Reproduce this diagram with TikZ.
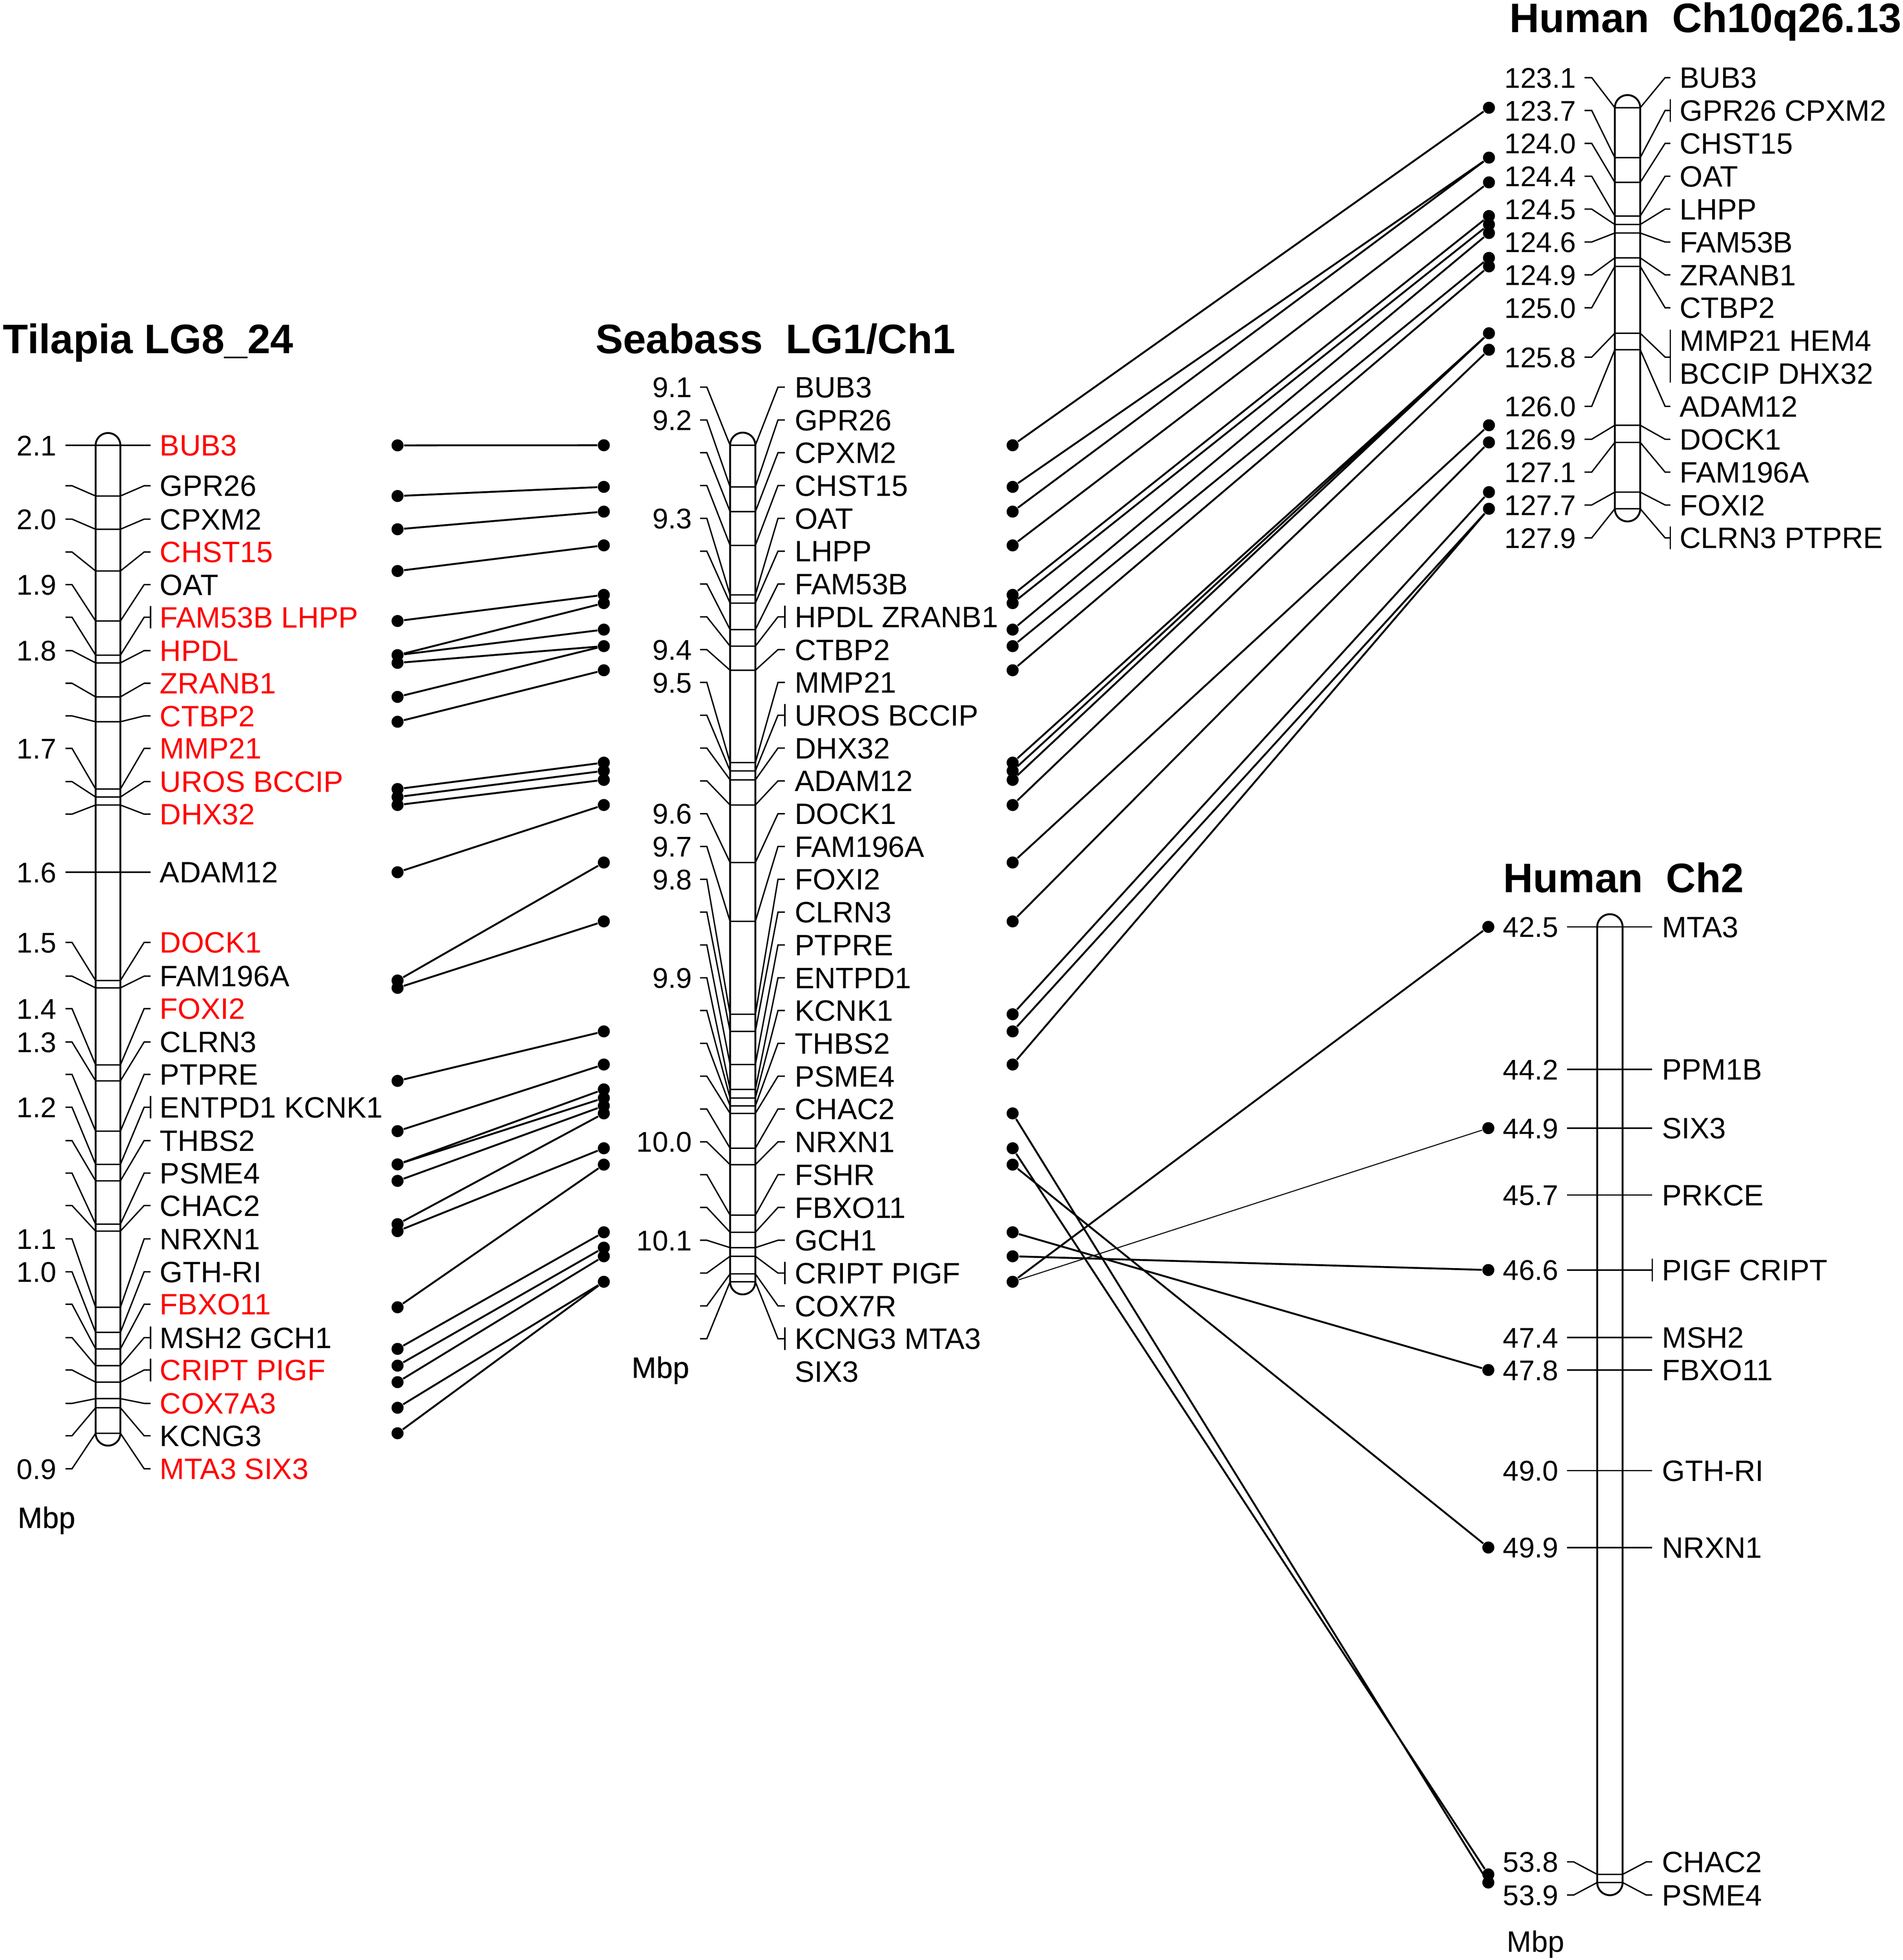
\documentclass[tikz,border=0pt]{standalone}
\usepackage{fontspec}
\setmainfont{Liberation Sans}
\newcommand{\genefont}{\fontsize{11.8}{14}\selectfont}
\newcommand{\numfont}{\fontsize{11.4}{14}\selectfont}
\newcommand{\titlefont}{\bfseries\fontsize{16.5}{20}\selectfont}
% chromosome outline: left, right, top, bottom
\newcommand{\chromosome}[4]{%
  \pgfmathsetmacro\rad{(#2-#1)/2}%
  \draw[chrom] (#1,#3) arc[start angle=180,end angle=360,radius=\rad]
    -- (#2,#4) arc[start angle=0,end angle=180,radius=\rad] -- cycle;}
% tick geometry of one chromosome
\newcommand{\setgeom}[6]{\def\lxa{#1}\def\lxb{#2}\def\xcl{#3}\def\xcr{#4}\def\rxa{#5}\def\rxb{#6}}
\newcommand{\marker}[2]{% row, band
  \draw[tick] (\lxa,#1) -- (\lxb,#1) -- (\xcl,#2) -- (\xcr,#2) -- (\rxa,#1) -- (\rxb,#1);}
\newcommand{\gbar}[2]{\draw[tick] (#1,{#2-9}) -- (#1,{#2+9});}

\begin{document}
\begin{tikzpicture}[x=0.5pt,y=-0.5pt,
    chrom/.style={line width=0.75pt},
    tick/.style={line width=0.55pt},
    link/.style={line width=0.75pt},
    thinlink/.style={line width=0.4pt},
    dot/.style={circle,fill=black,inner sep=0pt,minimum size=4.8pt},
    gene/.style={anchor=base west,inner sep=0pt,yshift=-4.2pt,font=\genefont},
    num/.style={anchor=base east,inner sep=0pt,yshift=-4.1pt,font=\numfont},
    title/.style={anchor=base west,inner sep=0pt,yshift=-5.9pt,font=\titlefont}]
  \useasboundingbox (0,0) rectangle (1522.2,1568);

  \node[title] (tilT) at (2,271) {Tilapia LG8\_24};
  \node[title] (seaT) at (476,271) {Seabass~~LG1/Ch1};
  \node[title] (hTen) at (1207,14) {Human~~Ch10q26.13};
  \node[title] (hTwo) at (1202,702) {Human~~Ch2};

  % Tilapia
  \setgeom{52.4}{57.6}{76.5}{96.3}{115.3}{120.4}
  \chromosome{76.5}{96.3}{356.3}{1146.6}
  \foreach \rw/\bd/\gn/\col [count=\idx] in {356.3/356.3/BUB3/red,
      388.6/396.8/GPR26/black, 415.3/423.4/CPXM2/black, 441.6/456.8/CHST15/red,
      467.7/496.8/OAT/black, 493.8/524.1/FAM53B LHPP/red, 520.5/530.3/HPDL/red,
      546.6/557.5/ZRANB1/red, 572.7/577.4/CTBP2/red, 598.7/631.2/MMP21/red,
      625.3/637.6/UROS BCCIP/red, 651.3/644.0/DHX32/red, 697.8/697.8/ADAM12/black,
      753.9/784.4/DOCK1/red, 780.9/790.3/FAM196A/black, 806.9/851.9/FOXI2/red,
      833.6/864.7/CLRN3/black, 859.5/904.9/PTPRE/black, 885.8/931.5/ENTPD1 KCNK1/black,
      912.5/944.7/THBS2/black, 938.5/979.3/PSME4/black, 964.4/984.9/CHAC2/black,
      991.1/1045.8/NRXN1/black, 1017.4/1065.9/GTH-RI/black, 1043.4/1079.1/FBXO11/red,
      1070.1/1092.5/MSH2 GCH1/black, 1096.0/1105.7/CRIPT PIGF/red,
      1122.7/1118.9/COX7A3/red, 1148.6/1126.2/KCNG3/black, 1175.0/1146.6/MTA3 SIX3/red}{
    \marker{\rw}{\bd}
    \node[gene,text=\col] (tg\idx) at (127.5,\rw) {\gn};}
  \foreach \rw/\n [count=\idx] in {356.3/2.1, 415.3/2.0, 467.7/1.9, 520.5/1.8, 598.7/1.7,
      697.8/1.6, 753.9/1.5, 806.9/1.4, 833.6/1.3, 885.8/1.2, 991.1/1.1, 1017.4/1.0, 1175.0/0.9}
    \node[num] (tn\idx) at (45.5,\rw) {\n};
  \foreach \rw in {493.8,885.8,1070.1,1096.0} \gbar{120.4}{\rw}
  \node[gene] (tMbp) at (14,1214) {Mbp};

  % Seabass
  \setgeom{560.0}{565.4}{584.0}{604.2}{622.3}{627.8}
  \chromosome{584.0}{604.2}{356.2}{1025.4}
  \foreach \bd/\gn [count=\idx from 0] in {356.2/BUB3, 389.5/GPR26, 409.3/CPXM2,
      436.3/CHST15, 475.9/OAT, 482.5/LHPP, 503.7/FAM53B, 516.9/HPDL ZRANB1, 536.2/CTBP2,
      610.1/MMP21, 616.7/UROS BCCIP, 623.9/DHX32, 644.0/ADAM12, 690.0/DOCK1,
      737.1/FAM196A, 811.4/FOXI2, 825.1/CLRN3, 851.6/PTPRE, 871.5/ENTPD1, 878.4/KCNK1,
      884.7/THBS2, 890.7/PSME4, 918.6/CHAC2, 931.7/NRXN1, 972.1/FSHR, 985.8/FBXO11,
      998.1/GCH1, 1005.0/CRIPT PIGF, 1019.1/COX7R, 1025.4/KCNG3 MTA3}{
    \pgfmathsetmacro\rw{309.7+26.25*\idx}
    \marker{\rw}{\bd}
    \node[gene] (sg\idx) at (635.4,\rw) {\gn};}
  \node[gene] (sg30) at (635.4,1097.2) {SIX3};
  \foreach \idx/\n in {0/9.1, 1/9.2, 4/9.3, 8/9.4, 9/9.5, 13/9.6, 14/9.7, 15/9.8,
      18/9.9, 23/10.0, 26/10.1}
    \node[num] (sn\idx) at (554,{309.7+26.25*\idx}) {\n};
  \foreach \idx in {7,10,27,29} \gbar{627.8}{309.7+26.25*\idx}
  \node[gene] (sMbp) at (505,1094) {Mbp};

  % Human Ch10q26.13
  \setgeom{1267.4}{1273.2}{1291.7}{1312.0}{1331.9}{1336.1}
  \chromosome{1291.7}{1312.0}{86.2}{407.0}
  \foreach \rw/\bd/\n [count=\idx] in {62.1/86.2/123.1, 88.4/126.1/123.7,
      114.7/145.9/124.0, 141.0/172.8/124.4, 167.3/179.6/124.5, 193.6/186.4/124.6,
      219.9/206.3/124.9, 246.2/213.1/125.0, 285.7/266.6/125.8, 325.1/279.8/126.0,
      351.4/340.2/126.9, 377.7/353.9/127.1, 404.0/393.7/127.7, 430.3/407.0/127.9}{
    \marker{\rw}{\bd}
    \node[num] (hn\idx) at (1261,\rw) {\n};}
  \foreach \rw/\gn [count=\idx] in {62.1/BUB3, 88.4/GPR26 CPXM2, 114.7/CHST15,
      141.0/OAT, 167.3/LHPP, 193.6/FAM53B, 219.9/ZRANB1, 246.2/CTBP2,
      272.5/MMP21 HEM4, 298.8/BCCIP DHX32, 325.1/ADAM12, 351.4/DOCK1,
      377.7/FAM196A, 404.0/FOXI2, 430.3/CLRN3 PTPRE}
    \node[gene] (hg\idx) at (1343.2,\rw) {\gn};
  \gbar{1336.1}{88.4}
  \gbar{1336.1}{430.3}
  \draw[tick] (1336.1,263.8) -- (1336.1,306.1);

  % Human Ch2
  \setgeom{1253.5}{1258.8}{1277.6}{1297.9}{1316.8}{1321.6}
  \chromosome{1277.6}{1297.9}{741.5}{1506}
  \foreach \rw/\bd/\gn/\n [count=\idx] in {741.5/741.5/MTA3/42.5,
      855.5/855.5/PPM1B/44.2, 902.5/902.5/SIX3/44.9, 956/956/PRKCE/45.7,
      1016/1016/PIGF CRIPT/46.6, 1070/1070/MSH2/47.4, 1096/1096/FBXO11/47.8,
      1176.5/1176.5/GTH-RI/49.0, 1238/1238/NRXN1/49.9,
      1489.5/1499.5/CHAC2/53.8, 1516/1506/PSME4/53.9}{
    \marker{\rw}{\bd}
    \node[num] (kn\idx) at (1247,\rw) {\n};
    \node[gene] (kg\idx) at (1329.1,\rw) {\gn};}
  \gbar{1321.6}{1016}
  \node[gene] (kMbp) at (1205,1553) {Mbp};

  % dots
  \foreach \key/\yy in {BUB3/356.3, GPR26/396.8, CPXM2/423.4, CHST15/456.8, OAT/496.8,
      FAM53B/524.1, HPDL/530.3, ZRANB1/557.5, CTBP2/577.4, MMP21/631.2, UROS/637.6,
      DHX32/644.0, ADAM12/697.8, DOCK1/784.4, FAM196A/790.3, CLRN3/864.7, PTPRE/904.9,
      ENTPD1/931.5, THBS2/944.7, PSME4/979.3, CHAC2/984.9, NRXN1/1045.8, FBXO11/1079.1,
      MSH2/1092.5, CRIPT/1105.7, KCNG3/1126.2, MTA3/1146.6}
    \node[dot] (t\key) at (318,\yy) {};
  \foreach \key/\yy in {BUB3/356.2, GPR26/389.5, CPXM2/409.3, CHST15/436.3, OAT/475.9,
      LHPP/482.5, FAM53B/503.7, HPDL/516.9, CTBP2/536.2, MMP21/610.1, UROS/616.7,
      DHX32/623.9, ADAM12/644.0, DOCK1/690.0, FAM196A/737.1, CLRN3/825.1, PTPRE/851.6,
      ENTPD1/871.5, KCNK1/878.4, THBS2/884.7, PSME4/890.7, CHAC2/918.6, NRXN1/931.7,
      FBXO11/985.8, GCH1/998.1, CRIPT/1005.0, KCNG3/1025.4}
    \node[dot] (a\key) at (483,\yy) {};
  \foreach \key/\yy in {BUB3/356.2, GPR26/389.5, CPXM2/409.3, CHST15/436.3, OAT/475.9,
      LHPP/482.5, FAM53B/503.7, HPDL/516.9, CTBP2/536.2, MMP21/610.1, UROS/616.7,
      DHX32/623.9, ADAM12/644.0, DOCK1/690.0, FAM196A/737.1, FOXI2/811.4, CLRN3/825.1,
      PTPRE/851.6, PSME4/890.7, CHAC2/918.6, NRXN1/931.7, FBXO11/985.8, CRIPT/1005.0,
      KCNG3/1025.4}
    \node[dot] (b\key) at (810,\yy) {};
  \foreach \key/\yy in {BUB3/86.2, GPR26/126.1, CHST15/145.9, OAT/172.8, LHPP/179.6,
      FAM53B/186.4, ZRANB1/206.3, CTBP2/213.1, MMP21/266.6, ADAM12/279.8, DOCK1/340.2,
      FAM196A/353.9, FOXI2/393.7, CLRN3/407.0}
    \node[dot] (h\key) at (1191,\yy) {};
  \foreach \key/\yy in {MTA3/741.5, SIX3/902.5, CRIPT/1016, FBXO11/1096, NRXN1/1238,
      CHAC2/1499.5, PSME4/1506}
    \node[dot] (k\key) at (1190.5,\yy) {};

  % links
  \foreach \p/\q in {BUB3/BUB3, GPR26/GPR26, CPXM2/CPXM2, CHST15/CHST15, OAT/OAT,
      FAM53B/LHPP, FAM53B/FAM53B, HPDL/HPDL, ZRANB1/HPDL, CTBP2/CTBP2, MMP21/MMP21,
      UROS/UROS, DHX32/DHX32, ADAM12/ADAM12, DOCK1/DOCK1, FAM196A/FAM196A, CLRN3/CLRN3,
      PTPRE/PTPRE, ENTPD1/ENTPD1, ENTPD1/KCNK1, THBS2/THBS2, PSME4/PSME4, CHAC2/CHAC2,
      NRXN1/NRXN1, FBXO11/FBXO11, MSH2/GCH1, CRIPT/CRIPT, KCNG3/KCNG3, MTA3/KCNG3}
    \draw[link] (t\p) -- (a\q);
  \foreach \p/\q in {BUB3/BUB3, GPR26/GPR26, CPXM2/GPR26, CHST15/CHST15, OAT/OAT,
      LHPP/LHPP, FAM53B/FAM53B, HPDL/ZRANB1, CTBP2/CTBP2, MMP21/MMP21, UROS/MMP21,
      DHX32/MMP21, ADAM12/ADAM12, DOCK1/DOCK1, FAM196A/FAM196A, FOXI2/FOXI2,
      CLRN3/CLRN3, PTPRE/CLRN3}
    \draw[link] (b\p) -- (h\q);
  \foreach \p/\q in {PSME4/PSME4, CHAC2/CHAC2, NRXN1/NRXN1, FBXO11/FBXO11,
      CRIPT/CRIPT, KCNG3/MTA3}
    \draw[link] (b\p) -- (k\q);
  \draw[thinlink] (bKCNG3) -- (kSIX3);
\end{tikzpicture}
\end{document}
